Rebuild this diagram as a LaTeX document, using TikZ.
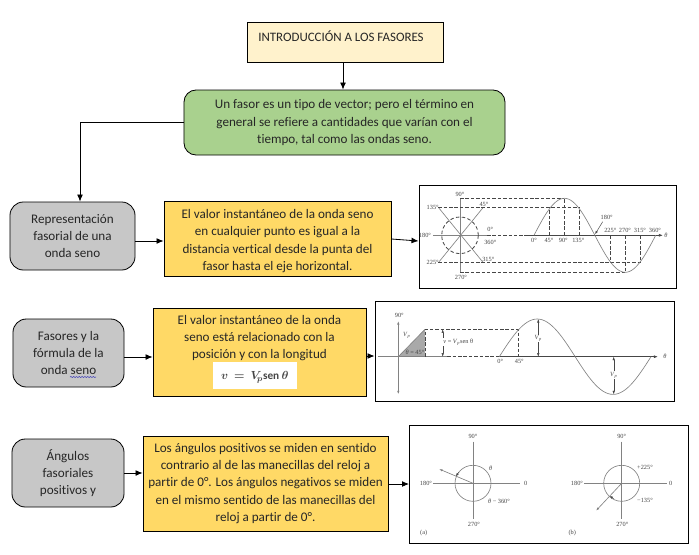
\documentclass[tikz,border=0pt]{standalone}
\usepackage{amsmath}
\usepackage{fontspec}
\setmainfont[Ligatures=NoCommon]{Carlito}
\newfontfamily\figfont{Liberation Serif}
\usetikzlibrary{arrows.meta, decorations.pathmorphing}
\definecolor{cajatitulo}{RGB}{255, 242, 204}
\definecolor{cajaverde}{RGB}{169, 209, 142}
\definecolor{cajagris}{RGB}{199, 199, 199}
\definecolor{cajaamarilla}{RGB}{255, 217, 102}
\definecolor{textocaja}{RGB}{38, 38, 38}
\definecolor{trazo}{RGB}{130, 130, 130}
\definecolor{rotulo}{RGB}{70, 70, 70}
\newcommand{\Vpico}{\textit{V}\textsubscript{\textit{p}}}
\tikzset{
  caja/.style={draw=black, line width=0.7pt, text=textocaja, align=center, inner sep=0pt,
    font=\fontsize{11.2}{14.8}\selectfont},
  gris/.style={caja, fill=cajagris, rounded corners=0.4cm, minimum height=2.04cm},
  amarilla/.style={caja, fill=cajaamarilla},
  lamina/.style={draw=black, line width=0.8pt, fill=white, inner sep=0pt},
  flecha/.style={-{Latex[length=6pt,width=5pt]}, line width=0.7pt, black},
  puntita/.style={{Latex[length=3pt,width=2pt]}-{Latex[length=3pt,width=2pt]}},
  rotulofig/.style={text=rotulo, inner sep=0pt, font=\figfont\fontsize{5.4}{6}\selectfont},
  eje/.style={trazo, line width=0.55pt},
  guia/.style={rotulo, dashed, line width=0.45pt, dash pattern=on 3pt off 1.6pt},
  onda/.style={trazo, line width=0.55pt, smooth}
}
\begin{document}
\begin{tikzpicture}[x=0.03cm, y=-0.03cm]
\useasboundingbox (0,0) rectangle (699,554);

% Title and definition
\node[caja, fill=cajatitulo, minimum width=5.88cm, minimum height=1.2cm] (titulo) at (345,42) {};
\node[text=textocaja, inner sep=0pt, font=\fontsize{11}{12}\selectfont] (titulotexto) at (341,36) {INTRODUCCIÓN A LOS FASORES};
\node[caja, fill=cajaverde, rounded corners=0.36cm, minimum width=9.63cm, minimum height=1.95cm] (fasor) at (344.5,122.5)
  {Un fasor es un tipo de vector; pero el término en\\general se refiere a cantidades que varían con el\\tiempo, tal como las ondas seno.};

% Left column
\node[gris, minimum width=3.75cm] (repr) at (72.5,236) {Representación\\fasorial de una\\onda seno};
\node[gris, minimum width=3.33cm] (formula) at (68.5,353) {Fasores y la\\fórmula de la\\onda seno};
\node[gris, minimum width=3.36cm] (angulos) at (68,473) {Ángulos\\fasoriales\\positivos y};

% Middle column
\node[amarilla, minimum width=6.81cm, minimum height=2.25cm] (valor) at (277.5,238.5)
  {\rule{0pt}{12pt}El valor instantáneo de la onda seno\\en cualquier punto es igual a la\\distancia vertical desde la punta del\\fasor hasta el eje horizontal.};
\node[amarilla, minimum width=6.39cm, minimum height=2.64cm] (posicion) at (259.5,352)
  {El valor instantáneo de la onda\\seno está relacionado con la\\posición y con la longitud\\
  \kern-8pt\colorbox{white}{\makebox[66pt]{\rule[-5pt]{0pt}{17pt}\color{rotulo}\fontsize{9.6}{12}\selectfont$\boldsymbol{v\,=\,V_{\!p}\mathrm{sen}\,\theta}$}}};
\node[amarilla, minimum width=7.35cm, minimum height=2.85cm] (sentido) at (265.5,483.5)
  {Los ángulos positivos se miden en sentido\\contrario al de las manecillas del reloj a\\partir de 0°. Los ángulos negativos se miden\\en el mismo sentido de las manecillas del\\reloj a partir de 0°.};

% Right column
\node[lamina, minimum width=7.71cm, minimum height=3.09cm] (lamina1) at (547.5,237) {};
\node[lamina, minimum width=8.97cm, minimum height=3cm] (lamina2) at (524.5,351) {};
\node[lamina, minimum width=8.37cm, minimum height=3.54cm] (lamina3) at (549,484.5) {};

% Connectors
\draw[flecha] (titulo.south -| 343,0) -- (fasor.north -| 343,0);
\draw[flecha] (fasor.west) -| (repr.north -| 80,0);
\draw[flecha] (repr.east |- 0,241) -- (valor.west |- 0,241);
\draw[flecha] (valor.east |- 0,239) -- (lamina1.west |- 0,241);
\draw[flecha] (formula.east |- 0,357) -- (posicion.west |- 0,357);
\draw[flecha] (posicion.east |- 0,356) -- (lamina2.west |- 0,356);
\draw[flecha] (angulos.east |- 0,473) -- (sentido.west |- 0,473);
\draw[flecha] (sentido.east |- 0,484) -- (lamina3.west |- 0,484);

% Spelling mark
\draw[blue!70!black, line width=0.35pt, decorate, decoration={snake, amplitude=0.35pt, segment length=2.4pt}] (70,377) -- (96,377);

% First figure: phasor and sine wave
\draw[eje] (433,235.3) -- (487,235.3);
\draw[guia] (487,235.3) -- (524,235.3);
\draw[-{Latex[length=3.5pt,width=2.5pt]}, line width=0.6pt, rotulo] (524,235.3) -- (663,235.3);
\draw[eje] (460,198.3) -- (460,272.3);
\draw[eje] (438.3,207.3) -- (483.3,262.7);
\draw[eje] (483.3,207.3) -- (438.3,262.7);
\draw[rotulo, line width=0.7pt, dash pattern=on 3pt off 2pt] (460,235.3) circle (18.3);
\draw[guia] (460,198.3) -- (564.4,198.3);
\draw[guia] (438.3,207.3) -- (579.6,207.3);
\draw[guia] (438.3,262.7) -- (640.4,262.7);
\draw[guia] (460,272.3) -- (625.3,272.3);
\foreach \gx/\gy in {549.2/207.3,564.4/198.3,579.6/207.3,610.1/262.7,625.3/272.3,640.4/262.7} \draw[guia] (\gx,235.3) -- (\gx,\gy);
\draw[onda] plot[domain=0:360, samples=61] ({534+\x/360*121.7},{235.3-37*sin(\x)});
\draw[-{Latex[length=3pt,width=2pt]}, rotulo, line width=0.4pt] (602.7,221.7) -- (595,234.3);
\foreach \lx/\ly/\lt [count=\i] in {460/194/90°, 432.7/207.3/135°, 484/204/45°, 490.3/229.3/0°, 490.3/242.3/360°,
    425/235.7/180°, 432.7/262.7/225°, 488.3/259/315°, 461/277.7/270°, 534/240.7/0°, 549/240.7/45°,
    563.3/240.7/90°, 578.3/240.7/135°, 606.7/217.3/180°, 610.3/230.7/225°, 625/230.7/270°, 640/230.7/315°,
    655/230.7/360°, 666/235.7/\textit{θ}}
  \node[rotulofig] (pa\i) at (\lx,\ly) {\lt};

% Second figure: instantaneous value
\fill[cajagris!85!black] (398.3,356.7) -- (425,329.3) -- (425,356.7) -- cycle;
\draw[eje] (398.3,356.7) -- (425,329.3);
\draw[eje] (378.3,356.7) -- (447.3,356.7);
\draw[guia] (447.3,356.7) -- (499.3,356.7);
\draw[-{Latex[length=3.5pt,width=2.5pt]}, line width=0.6pt, rotulo] (499.3,356.7) -- (658,356.7);
\draw[puntita, eje] (398.3,321) -- (398.3,394.3);
\draw[guia] (425,356.7) -- (425,329.3) -- (518.3,329.3) -- (518.3,356.7);
\draw[onda] plot[domain=0:360, samples=61] ({499.3+\x/360*151.7},{356.7-37.7*sin(\x)});
\draw[puntita, rotulo, line width=0.35pt] (442.7,329.3) -- (442.7,356.7);
\draw[puntita, rotulo, line width=0.35pt] (538.3,319) -- (538.3,356.7);
\draw[puntita, rotulo, line width=0.35pt] (613.7,356.7) -- (613.7,394.3);
\foreach \lx/\ly/\lt [count=\i] in {399.3/315.7/90°, 406.7/335.7/\Vpico, 415/352.7/{\textit{θ} = 45°},
    500.3/361.7/0°, 519.3/361.7/45°, 665/356.7/\textit{θ}}
  \node[rotulofig] (pb\i) at (\lx,\ly) {\lt};
\node[rotulofig, fill=white, inner sep=0.5pt] (pb7) at (458.3,342.3) {\textit{v} = \Vpico sen θ};
\node[rotulofig, fill=white, inner sep=0.5pt] (pb8) at (538.3,338.3) {\Vpico};
\node[rotulofig, fill=white, inner sep=0.5pt] (pb9) at (613.7,375) {\Vpico};

% Third figure: positive and negative angles
\foreach \cx/\hl/\hr in {473/433.3/520, 621.7/584/666.7} {
  \draw[eje] (\hl,483.3) -- (\hr,483.3);
  \draw[eje] (\cx,441.7) -- (\cx,519.3);
  \draw[eje] (\cx,483.3) circle (18);
}
\draw[-{Latex[length=3pt,width=2pt]}, eje] (473,483.3) -- (439,469);
\draw[-{Latex[length=3pt,width=2pt]}, eje] (621.7,483.3) -- (596,510.7);
\draw[-{Latex[length=2.5pt,width=2pt]}, rotulo, line width=0.3pt] (459,472) -- (456,476);
\draw[-{Latex[length=2.5pt,width=2pt]}, rotulo, line width=0.3pt] (614,499) -- (610,496);
\foreach \lx/\ly/\lt [count=\i] in {473/436.7/90°, 426/483.3/180°, 525.7/483.3/0, 474/524.3/270°, 423.7/533.3/(a),
    490.7/468/\textit{θ}, 499/501.7/{\textit{θ} − 360°}, 621.7/436.7/90°, 577/483.3/180°, 670.7/483.3/0, 622.3/524.3/270°,
    572.3/533.3/(b), 645/467.7/+225°, 645/500/−135°}
  \node[rotulofig] (pc\i) at (\lx,\ly) {\lt};
\end{tikzpicture}
\end{document}
